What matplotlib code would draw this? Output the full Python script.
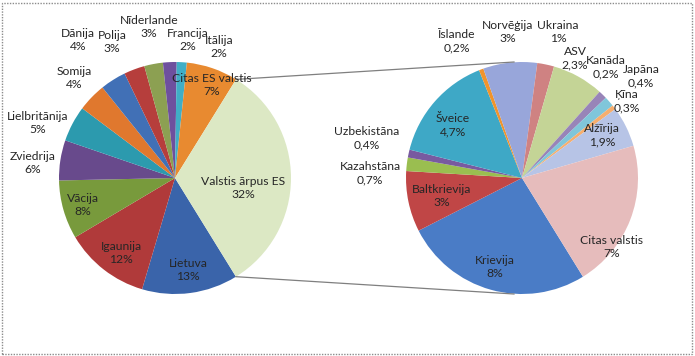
import numpy as np
import matplotlib.pyplot as plt
from matplotlib.patches import Rectangle

plt.rcParams['font.family'] = ['Lato', 'DejaVu Sans']

# ----- main pie: EU countries + the aggregated non-EU slice -----
mainNames = ['Lietuva', 'Igaunija', 'Vācija', 'Zviedrija', 'Lielbritānija', 'Somija',
             'Dānija', 'Polija', 'Nīderlande', 'Francija', 'Itālija', 'Citas ES valstis',
             'Valstis ārpus ES']
mainValues = [13.4, 11.9, 8.2, 5.6, 5.0, 4.0, 3.6, 2.9, 2.6, 1.9, 1.4, 7.2, 32.4]
mainPct = ['13%', '12%', '8%', '6%', '5%', '4%', '4%', '3%', '3%', '2%', '2%', '7%', '32%']

# ----- secondary pie: breakdown of 'Valstis ārpus ES' -----
subNames = ['Krievija', 'Baltkrievija', 'Kazahstāna', 'Uzbekistāna', 'Šveice', 'Īslande',
            'Norvēģija', 'Ukraina', 'ASV', 'Kanāda', 'Japāna', 'Ķīna', 'Alžīrija',
            'Citas valstis']
subValues = [8.4, 2.7, 0.6, 0.35, 4.8, 0.2, 2.4, 0.75, 2.3, 0.38, 0.45, 0.2, 1.8, 6.6]
subPct = ['8%', '3%', '0,7%', '0,4%', '4,7%', '0,2%', '3%', '1%', '2,3%', '0,2%', '0,4%',
          '0,3%', '1,9%', '7%']

mainColors = ['#3a64aa', '#b03a3a', '#789a3c', '#684a8c', '#2c9aae', '#e0782e',
              '#4170b6', '#b63e3c', '#8ca052', '#6e509e', '#40aec6', '#e88a30',
              '#dce8c4']
subColors = ['#4a7cc6', '#c04646', '#9abe50', '#785aa0', '#3ea8c6', '#f0942c',
             '#98a6da', '#cf8282', '#c4d496', '#9884b8', '#80c6da', '#f6ae6e',
             '#b7c4e6', '#e6bcbc']

# label centres in pixel coords (y from top), layout only
mainLabelPos = [(188, 270), (121, 253), (83, 205), (33, 163), (38, 123), (74, 78),
                (78, 40), (112, 42), (149, 27), (188, 40), (219, 47), (212, 85),
                (243, 188)]
subLabelPos = [(495, 267), (442, 196), (370, 173), (367, 138), (453, 125), (457, 41),
               (508, 32), (558, 32), (575, 58), (606, 67), (641, 76), (627, 101),
               (602, 135), (612, 247)]

W, H = 695, 356
R = 116
mainCentre = (175, H - 178)
subCentre = (522, H - 178)
startAng = -58.3

fig = plt.figure(figsize=(W / 100, H / 100), dpi=100)
ax = fig.add_axes([0, 0, 1, 1])

mainWedges, _ = ax.pie(mainValues, colors=mainColors, startangle=startAng, counterclock=False,
                       center=mainCentre, radius=R, wedgeprops=dict(linewidth=0))
subWedges, _ = ax.pie(subValues, colors=subColors, startangle=startAng, counterclock=False,
                      center=subCentre, radius=R, wedgeprops=dict(linewidth=0))

# connector lines from the split slice to top/bottom of the second pie
other = mainWedges[-1]
for ang, yEnd in [(other.theta2, subCentre[1] + R), (other.theta1, subCentre[1] - R)]:
    x0 = mainCentre[0] + R * np.cos(np.radians(ang))
    y0 = mainCentre[1] + R * np.sin(np.radians(ang))
    ax.plot([x0, subCentre[0] - 8], [y0, yEnd], color='#7f7f7f', linewidth=0.9)

for name, pct, (x, y) in zip(mainNames, mainPct, mainLabelPos):
    ax.text(x, H - y, name + '\n' + pct, ha='center', va='center', fontsize=8.7,
            color='#262626', linespacing=1.3)
for name, pct, (x, y) in zip(subNames, subPct, subLabelPos):
    ax.text(x, H - y, name + '\n' + pct, ha='center', va='center', fontsize=8.7,
            color='#262626', linespacing=1.3)

ax.add_patch(Rectangle((2, 2), W - 5, H - 5, fill=False, edgecolor='#8c8c8c',
                       linestyle=(0, (1, 1)), linewidth=1))

ax.set_xlim(0, W)
ax.set_ylim(0, H)
ax.set_aspect('equal')
ax.axis('off')

fig.savefig('out.png', dpi=100)
